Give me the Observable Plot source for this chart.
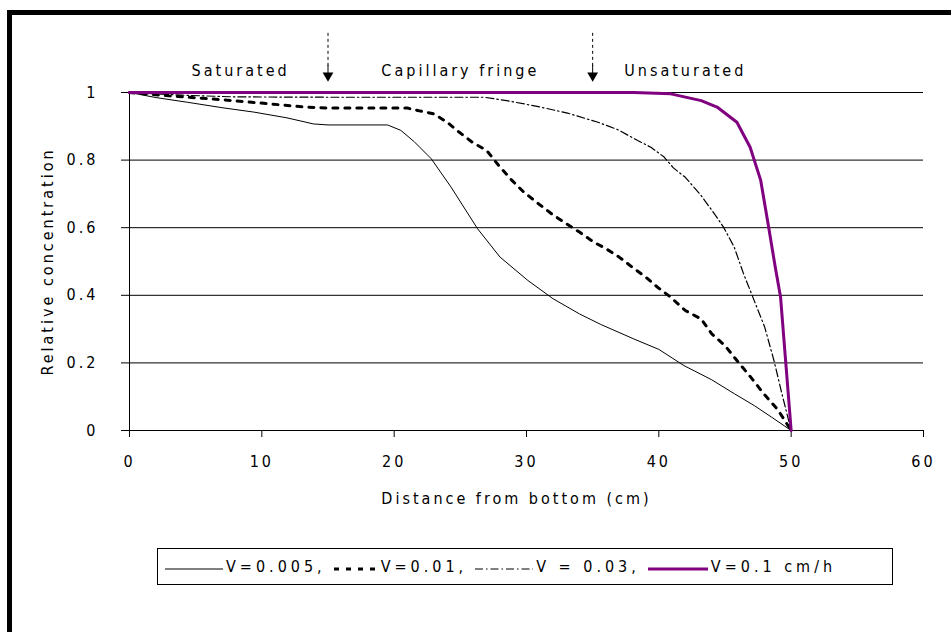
<!DOCTYPE html>
<html>
<head>
<meta charset="utf-8">
<script src="https://cdn.jsdelivr.net/npm/d3@7"></script>
<script src="https://cdn.jsdelivr.net/npm/@observablehq/plot@0.6"></script>
<style>
  html, body { margin: 0; padding: 0; background: #fff; }
  #page { position: relative; width: 951px; height: 632px; overflow: hidden; background: #fff;
          font-family: "Liberation Sans Narrow", "DejaVu Sans Condensed", "Liberation Sans", sans-serif; }
  #frame { position: absolute; left: 7px; top: 10px; width: 960px; height: 640px;
           border-left: 5px solid #000; border-top: 5px solid #000; box-sizing: border-box; }
  #chart { position: absolute; left: 0; top: 0; }
  #legend { position: absolute; left: 157px; top: 548px; width: 736px; height: 37px;
            border: 1px solid #000; box-sizing: border-box; display: flex; align-items: center;
            padding-left: 7px; font-size: 16px; letter-spacing: 4px; color: #000; white-space: nowrap; }
  #legend svg { display: block; margin-right: 3px; }
  #legend span { margin-right: 8px; }
</style>
</head>
<body>
<div id="page">
  <div id="frame"></div>
  <div id="chart"></div>
  <div id="legend"></div>
</div>
<script>
// ---- data ----
const xTicks = [0, 10, 20, 30, 40, 50, 60];
const yTicks = [0, 0.2, 0.4, 0.6, 0.8, 1];

const seriesNames = ["V=0.005,", "V=0.01,", "V = 0.03,", "V=0.1 cm/h"];

const x005 = [0, 2, 4.4, 7, 9.4, 11.9, 13.9, 15, 19.5, 20.5, 21.5, 22.8, 24.3, 26.3, 28, 30.1, 32, 34, 35.6, 38.1, 40, 41.9, 44, 45.7, 47.2, 48.5, 50];
const y005 = [1, 0.985, 0.971, 0.955, 0.942, 0.925, 0.907, 0.904, 0.904, 0.888, 0.855, 0.804, 0.72, 0.597, 0.513, 0.444, 0.39, 0.345, 0.314, 0.271, 0.24, 0.192, 0.15, 0.109, 0.074, 0.04, 0];

const x01 = [0, 3, 6.9, 10.7, 13.2, 15, 21, 22, 23, 24, 24.9, 25.9, 27, 27.9, 28.9, 29.8, 30.9, 31.9, 33, 34, 35.1, 36, 37, 38, 39, 39.9, 40.9, 42, 43.2, 44, 45, 45.9, 46.9, 47.9, 49, 50];
const y01 = [1, 0.99, 0.979, 0.966, 0.957, 0.954, 0.954, 0.945, 0.937, 0.912, 0.883, 0.853, 0.828, 0.784, 0.74, 0.705, 0.671, 0.641, 0.612, 0.587, 0.557, 0.538, 0.513, 0.483, 0.454, 0.424, 0.394, 0.355, 0.33, 0.286, 0.251, 0.207, 0.16, 0.11, 0.061, 0];

const x03 = [0, 4, 8, 15, 26.8, 28.5, 30.8, 33.1, 35.4, 36.9, 38.4, 39.4, 40.4, 41.1, 42, 43.2, 44.2, 44.9, 45.7, 46.4, 47.2, 48, 48.7, 49.3, 50];
const y03 = [1, 0.992, 0.987, 0.986, 0.986, 0.976, 0.959, 0.939, 0.912, 0.89, 0.858, 0.838, 0.809, 0.777, 0.749, 0.695, 0.641, 0.601, 0.542, 0.464, 0.385, 0.306, 0.207, 0.109, 0];

const x1 = [0, 38.1, 40.9, 43.2, 44.4, 45.9, 46.9, 47.7, 48.3, 48.8, 49.2, 49.6, 50];
const y1 = [1, 1, 0.996, 0.976, 0.957, 0.912, 0.838, 0.74, 0.601, 0.483, 0.394, 0.197, 0];

const zoneLabels = ["Saturated", "Capillary fringe", "Unsaturated"];
const zoneLabelX = [8.4, 25, 42];
const zoneBounds = [15, 35];

// ---- styles per series ----
const FONT = '"Liberation Sans Narrow", "DejaVu Sans Condensed", "Liberation Sans", sans-serif';
const styles = [
  {stroke: "#000", strokeWidth: 1, dash: null},
  {stroke: "#000", strokeWidth: 3, dash: "5,7"},
  {stroke: "#000", strokeWidth: 1.2, dash: "8,3,1.5,3"},
  {stroke: "#800080", strokeWidth: 3, dash: null}
];
const swatchW = [58, 44, 58, 60];

const toRows = (xs, ys) => xs.map((x, i) => ({x, y: ys[i]}));
const series = [toRows(x005, y005), toRows(x01, y01), toRows(x03, y03), toRows(x1, y1)];

const lineMarks = series.map((rows, i) => Plot.line(rows, {
  x: "x", y: "y", stroke: styles[i].stroke, strokeWidth: styles[i].strokeWidth,
  strokeDasharray: styles[i].dash, curve: "linear"
}));

const chart = Plot.plot({
  width: 951,
  height: 520,
  marginLeft: 129,
  marginRight: 28,
  marginTop: 92,
  marginBottom: 90,
  x: {domain: [0, 60]},
  y: {domain: [0, 1]},
  style: {fontFamily: FONT, fontSize: "16px", background: "transparent", color: "#000", letterSpacing: "3px"},
  marks: [
    Plot.ruleY(yTicks, {x1: 0, x2: 60, stroke: "#000", strokeWidth: 1, strokeOpacity: 1}),
    Plot.ruleX([0], {y1: 0, y2: 1, stroke: "#000", strokeWidth: 1}),
    Plot.axisX({ticks: xTicks, tickSize: 7, tickPadding: 18, tickFormat: d => String(d), label: null, stroke: "#000"}),
    Plot.axisY({ticks: yTicks, tickSize: 8, tickPadding: 23, tickFormat: d => String(d), label: null, stroke: "#000"}),
    ...lineMarks,
    Plot.text(["Distance from bottom (cm)"], {frameAnchor: "bottom", dy: 73, dx: -10, fontSize: 16}),
    Plot.text(["Relative concentration"], {frameAnchor: "left", textAnchor: "middle", rotate: -90, dx: -82, fontSize: 16}),
    Plot.text(zoneLabels, {x: (d, i) => zoneLabelX[i], frameAnchor: "top", dy: -28, fontSize: 16}),
    Plot.ruleX(zoneBounds, {x: d => d, y1: 1.175, y2: 1.075, stroke: "#000", strokeWidth: 1, strokeDasharray: "3,3"}),
    Plot.ruleX(zoneBounds, {x: d => d, y1: 1.08, y2: 1.05, stroke: "#000", strokeWidth: 1}),
    Plot.dot(zoneBounds, {x: d => d, y: 1.05, symbol: "triangle", r: 4, fill: "#000", stroke: "none", rotate: 180})
  ]
});
document.getElementById("chart").appendChild(chart);

// ---- legend ----
const legend = d3.select("#legend");
seriesNames.forEach((name, i) => {
  const s = styles[i];
  const w = swatchW[i];
  const svg = legend.append("svg").attr("width", w).attr("height", 12);
  svg.append("line").attr("x1", 0).attr("x2", w).attr("y1", 8).attr("y2", 8)
    .attr("stroke", s.stroke).attr("stroke-width", s.strokeWidth)
    .attr("stroke-dasharray", s.dash);
  legend.append("span").text(name);
});
</script>
</body>
</html>
